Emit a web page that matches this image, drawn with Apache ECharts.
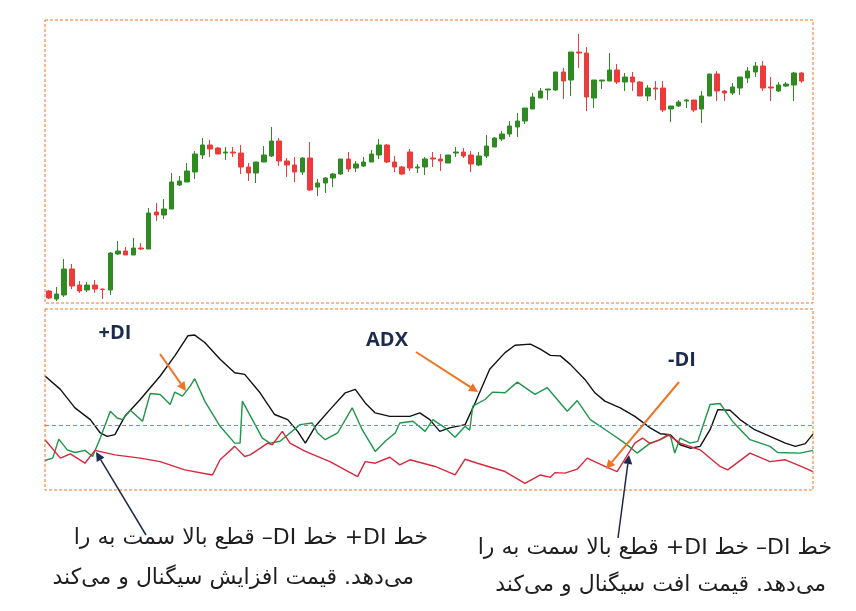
<!DOCTYPE html>
<html><head><meta charset="utf-8">
<script src="https://cdn.jsdelivr.net/npm/echarts@6/dist/echarts.min.js"></script>
<style>html,body{margin:0;padding:0;background:#fff}#c{width:856px;height:611px}</style>
</head><body><div id="c"></div>
<script>
// OHLC as [open, close, low, high]
const candles = [
[12,5,4,13],[4,9,2,16],[8,34,6,44],[34,17,14,39],[18,12,10,22],[13,18,11,21],[18,14,10,23],[14,13.5,4,14.3],
[13,50,8,51],[49,52,48,62],[52,48,48,56],[48,55,48,65],[55,54,53,60],[54,90,54,95],[91,88,82,100],[88,94,84,104],
[94,121,94,130],[118,122,117,127],[121,132,121,140],[131,149,124,152],[148,158,144,165],[158,154,146,163],[155,149,149,156],
[150,151,143,156],[151,150,146,156],[150,136,129,158],[136,130,122,140],[130,141,120,141],[141,148,141,157],[147,162,146,176],
[162,142,137,165],[142,138,126,145],[138,131,121,146],[131,145,128,146],[145,113,112,161],[116,120,107,124],[120,125,110,126],
[125,129,116,130],[129,144,128,144],[144,134,131,151],[135,139,131,142],[137,141,136,146],[141,149,141,153],[148,158,144,164],
[158,141,140,159],[141,136,131,147],[136,129,128,137],[151,135,132,154],[135,136,130,139],[136,144,128,146],[145,144,136,151],
[144,142,132,149],[140,148,140,148],[150,151,146,156],[151,147,145,155],[148,139,131,152],[138,147,137,151],[147,157,145,168],
[156,165,156,166],[164,169,162,172],[169,177,166,182],[176,182,166,190],[182,195,179,195],[194,206,194,210],[205,212,205,215],
[213,214,203,214],[213,231,212,231],[231,222,204,235],[223,251,207,251],[251,250,235,269],[250,206,192,256],[205,223,195,223],
[222,223,214,223],[222,233,222,250],[233,221,219,239],[221,226,212,230],[226,221,212,231],[221,207,207,222],[207,215,202,218],
[215,214,203,222],[215,193,191,222],[194,197,181,197],[197,201,196,203],[202,203,195,204],[203,193,191,203],[194,207,180,212],
[207,229,207,229],[229,212,202,232],[212,210,202,213],[210,216,208,220],[215,226,208,226],[225,232,220,236],[231,237,226,241],
[237,215,212,242],[216,215,202,226],[212,218,211,221],[217,219,216,221],[218,230,202,231],[230,222,220,231]
];
const categories = candles.map((_, i) => 'D' + (i + 1)).concat(['']);

const adx = [[0,63],[2,55.6],[3.9,45.4],[5.9,38.9],[7.2,31.5],[8.1,29.6],[9.1,30.6],[10.4,40.7],[12.4,50],[15,63],[16.9,74.1],[18.6,85.2],[19.5,85.6],[20.8,81.5],[22.8,72.2],[24.7,64.8],[26,63.9],[28,53.7],[29.9,41.7],[31.6,38.9],[32.9,32.4],[33.9,25.9],[35.2,35.2],[37.1,44.4],[39.1,53.7],[40.4,55.6],[41.7,48.1],[43,42.6],[44.9,40.7],[47.5,40.7],[48.8,42.6],[50.1,38.9],[51.4,32.4],[52.7,34.3],[54.7,36.1],[56,48.1],[57.9,66.7],[59.9,75.9],[61.2,80],[63.2,80.6],[64.5,77.8],[65.8,74.4],[67.1,74.1],[68.4,69.4],[70.3,61.1],[71.6,53.7],[72.9,49.1],[74.9,45.4],[76.8,40.7],[78.8,34.3],[80.1,31.1],[81.4,30.6],[82.7,25],[84,23.1],[85.3,24.1],[86.6,33.3],[87.6,44.4],[89.2,44.1],[90.5,38.9],[92.4,33.3],[94.4,29.6],[96.4,25.9],[97.7,24.1],[99,25.6],[100,30.9]];
const plusDI = [[0,16.3],[1,17.6],[1.8,28.1],[2.9,22.2],[3.9,20.7],[5.2,21.9],[6.2,18.5],[7.2,28.7],[8.5,43.5],[9.4,39.8],[10.1,38.9],[11.1,44.1],[12.7,38],[13.7,53.3],[15,52.8],[16.3,47.2],[16.9,54.1],[17.9,51.9],[18.9,57.4],[19.5,61.5],[20.8,49.1],[22.8,35.2],[24.7,25.9],[25.4,25.9],[25.7,49.1],[27,38.9],[28.3,28.7],[29.3,25.9],[30.6,26.9],[31.9,31.5],[33.2,36.1],[34.8,37],[35.5,31.5],[36.5,27.8],[38.1,31.5],[40,45.4],[41.3,33.3],[43,21.3],[44.3,26.9],[45.6,31.5],[46.2,37],[47.9,38],[49.5,32.4],[50.5,38.9],[52.1,34.3],[53.4,29.1],[54.7,35.2],[55.3,33],[55.7,46.3],[57.3,50],[58.3,54.1],[59.9,53.7],[61.5,59.6],[63.8,52.8],[65.4,56.5],[68,43.5],[69.3,49.4],[71,38.9],[73.6,31.5],[75.5,25.9],[77.1,20.4],[78.8,25.9],[80.1,27.8],[81.4,30.6],[82,20.4],[82.7,28.7],[84,25.9],[85,26.9],[86.6,47.2],[87.9,47.8],[89.5,38],[91.8,27.8],[94.4,24.1],[95.4,20.7],[98.3,20.4],[100,21.9]];
const minusDI = [[0,27.8],[2,17.6],[3.3,20],[5.2,14.8],[6.5,21.9],[9.1,19.4],[12.4,17.6],[15,15.7],[18.2,11.1],[21.8,8.3],[22.8,16.7],[24.7,24.1],[26,18.5],[26.7,19.4],[27.7,22.2],[29,25.9],[29.6,25],[30.9,32.4],[31.9,25.9],[33.9,21.3],[37.1,15.7],[40.7,7.4],[41.7,15.7],[43,14.8],[44.9,18.1],[46.2,13.9],[47.5,16.7],[50.8,13],[53.4,8.3],[54.7,17],[56.3,14.8],[59.9,10.2],[62.5,3.7],[64.5,8.3],[65.8,7],[66.4,9.6],[67.7,9.3],[69.3,11.5],[70.6,17.6],[72.9,13],[74.5,10.2],[76.8,25.9],[77.8,28.7],[78.8,25.6],[80.1,27.8],[81.1,30.6],[82.7,25.9],[85.3,22.2],[87.9,13],[88.9,11.1],[91.8,20.4],[94.4,15.7],[96.4,16.7],[98.3,13.3],[100,10.2]];
const refLevel = 35.7;

const labels = ['+DI', 'ADX', '-DI'];
const note1a = ['خط','+DI','خط','–DI','را','به','سمت','بالا','قطع'].reverse().join(' ');
const note1b = ['می‌کند','و','سیگنال','افزایش','قیمت','می‌دهد.'].reverse().join(' ');
const note2a = ['خط','–DI','خط','+DI','را','به','سمت','بالا','قطع'].reverse().join(' ');
const note2b = ['می‌کند','و','سیگنال','افت','قیمت','می‌دهد.'].reverse().join(' ');

const ORANGE = '#ee7424', NAVY = '#1c2a4e';
function arrow(x1, y1, x2, y2, color, w, head) {
  const a = Math.atan2(y2 - y1, x2 - x1), h = head, s = head * 0.5;
  const bx = x2 - h * Math.cos(a), by = y2 - h * Math.sin(a);
  return [
    {type:'line', shape:{x1, y1, x2:bx, y2:by}, style:{stroke:color, lineWidth:w}, z:50},
    {type:'polygon', shape:{points:[[x2,y2],[bx + s*Math.sin(a), by - s*Math.cos(a)],[bx - s*Math.sin(a), by + s*Math.cos(a)]]}, style:{fill:color}, z:50}
  ];
}
const txtFont = '"DejaVu Sans", sans-serif';
const chart = echarts.init(document.getElementById('c'));
chart.setOption({
  animation:false,
  grid:[{left:45, width:768, top:20, height:283}, {left:45, width:768, top:309, height:181}],
  xAxis:[
    {type:'category', data:categories, gridIndex:0, show:false, boundaryGap:true},
    {type:'value', gridIndex:1, min:0, max:100, show:false}
  ],
  yAxis:[
    {type:'value', gridIndex:0, min:0, max:283, show:false},
    {type:'value', gridIndex:1, min:0, max:100, show:false}
  ],
  series:[
    {type:'candlestick', data:candles, xAxisIndex:0, yAxisIndex:0, barWidth:5,
     itemStyle:{color:'#2f8a22', color0:'#ec3b3b', borderColor:'#2f8a22', borderColor0:'#ec3b3b', borderWidth:1}},
    {type:'line', data:adx, xAxisIndex:1, yAxisIndex:1, symbol:'none', lineStyle:{color:'#111', width:1.4},
     markLine:{silent:true, symbol:'none', label:{show:false},
       lineStyle:{color:ORANGE, type:'dashed', width:1, opacity:1},
       data:[{yAxis:refLevel, lineStyle:{color:ORANGE, type:[4,3], width:1}}]}},
    {type:'line', data:plusDI, xAxisIndex:1, yAxisIndex:1, symbol:'none', lineStyle:{color:'#1e9548', width:1.4}},
    {type:'line', data:minusDI, xAxisIndex:1, yAxisIndex:1, symbol:'none', lineStyle:{color:'#d8283c', width:1.4}}
  ],
  graphic:[
    {type:'rect', shape:{x:45, y:20, width:768, height:283}, style:{fill:null, stroke:ORANGE, lineWidth:1, lineDash:[3,2]}, z:40},
    {type:'rect', shape:{x:45, y:309, width:768, height:181}, style:{fill:null, stroke:ORANGE, lineWidth:1, lineDash:[3,2]}, z:40},
    {type:'text', x:115, y:333, style:{text:labels[0], fill:NAVY, font:'bold 20px "Open Sans", sans-serif', textAlign:'center', textVerticalAlign:'middle'}, z:60},
    {type:'text', x:387, y:340, style:{text:labels[1], fill:NAVY, font:'bold 20px "Open Sans", sans-serif', textAlign:'center', textVerticalAlign:'middle'}, z:60},
    {type:'text', x:682, y:360, style:{text:labels[2], fill:NAVY, font:'bold 20px "Open Sans", sans-serif', textAlign:'center', textVerticalAlign:'middle'}, z:60},
    ...arrow(160, 354, 186, 391, ORANGE, 2, 9),
    ...arrow(416, 352, 478, 392, ORANGE, 2, 9),
    ...arrow(679, 382, 606, 469, ORANGE, 2, 9),
    ...arrow(146, 535, 96, 452, NAVY, 1.5, 9),
    ...arrow(618, 538, 629, 455, NAVY, 1.5, 9),
    {type:'text', x:428, y:538, style:{text:note1a, fill:'#1e1e1e', font:'22px ' + txtFont, textAlign:'right', textVerticalAlign:'middle'}, z:60},
    {type:'text', x:414, y:578, style:{text:note1b, fill:'#1e1e1e', font:'22px ' + txtFont, textAlign:'right', textVerticalAlign:'middle'}, z:60},
    {type:'text', x:832, y:548, style:{text:note2a, fill:'#1e1e1e', font:'22px ' + txtFont, textAlign:'right', textVerticalAlign:'middle'}, z:60},
    {type:'text', x:826, y:585, style:{text:note2b, fill:'#1e1e1e', font:'22px ' + txtFont, textAlign:'right', textVerticalAlign:'middle'}, z:60}
  ]
});
</script></body></html>
